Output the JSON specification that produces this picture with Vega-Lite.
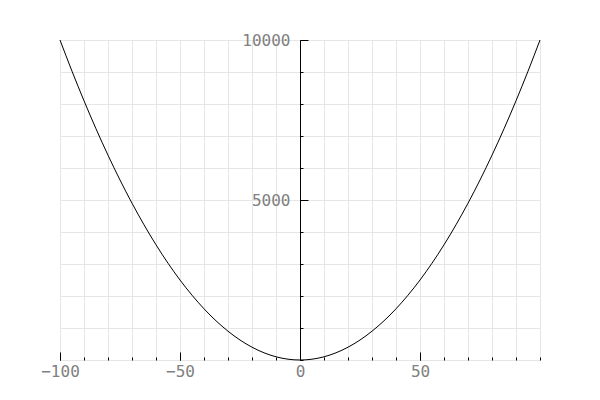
{
  "$schema": "https://vega.github.io/schema/vega-lite/v6.json",
  "width": 480,
  "height": 320,
  "autosize": {"type": "none"},
  "padding": {"left": 60, "top": 40, "right": 60, "bottom": 40},
  "background": "white",
  "config": {
    "view": {"stroke": null},
    "axis": {
      "labelFont": "DejaVu Sans Mono",
      "labelFontSize": 16,
      "labelColor": "#808080",
      "tickColor": "black",
      "domainColor": "black",
      "gridColor": "#e6e6e6",
      "gridWidth": 1,
      "title": null
    }
  },
  "data": {
    "values": [
      {"x": -100, "y": 10000}, {"x": -95, "y": 9025}, {"x": -90, "y": 8100}, {"x": -85, "y": 7225},
      {"x": -80, "y": 6400}, {"x": -75, "y": 5625}, {"x": -70, "y": 4900}, {"x": -65, "y": 4225},
      {"x": -60, "y": 3600}, {"x": -55, "y": 3025}, {"x": -50, "y": 2500}, {"x": -45, "y": 2025},
      {"x": -40, "y": 1600}, {"x": -35, "y": 1225}, {"x": -30, "y": 900}, {"x": -25, "y": 625},
      {"x": -20, "y": 400}, {"x": -15, "y": 225}, {"x": -10, "y": 100}, {"x": -5, "y": 25},
      {"x": 0, "y": 0},
      {"x": 5, "y": 25}, {"x": 10, "y": 100}, {"x": 15, "y": 225}, {"x": 20, "y": 400},
      {"x": 25, "y": 625}, {"x": 30, "y": 900}, {"x": 35, "y": 1225}, {"x": 40, "y": 1600},
      {"x": 45, "y": 2025}, {"x": 50, "y": 2500}, {"x": 55, "y": 3025}, {"x": 60, "y": 3600},
      {"x": 65, "y": 4225}, {"x": 70, "y": 4900}, {"x": 75, "y": 5625}, {"x": 80, "y": 6400},
      {"x": 85, "y": 7225}, {"x": 90, "y": 8100}, {"x": 95, "y": 9025}, {"x": 100, "y": 10000}
    ]
  },
  "resolve": {"axis": {"x": "independent", "y": "independent"}},
  "layer": [
    {
      "mark": {"type": "line", "strokeOpacity": 0},
      "encoding": {
        "x": {
          "field": "x", "type": "quantitative",
          "scale": {"domain": [-100, 100], "nice": false, "zero": false},
          "axis": {
            "orient": "bottom",
            "values": [-100, -90, -80, -70, -60, -50, -40, -30, -20, -10, 0, 10, 20, 30, 40, 50, 60, 70, 80, 90, 100],
            "labels": false, "domain": false, "grid": true,
            "tickSize": -3, "zindex": 0
          }
        },
        "y": {
          "field": "y", "type": "quantitative",
          "scale": {"domain": [0, 10000], "nice": false},
          "axis": {
            "orient": "left", "offset": -240,
            "values": [0, 1000, 2000, 3000, 4000, 5000, 6000, 7000, 8000, 9000, 10000],
            "labels": false, "domain": false, "grid": true,
            "tickSize": -3, "zindex": 0
          }
        }
      }
    },
    {
      "mark": {"type": "line", "color": "black", "strokeWidth": 1, "interpolate": "monotone"},
      "encoding": {
        "x": {
          "field": "x", "type": "quantitative",
          "axis": {
            "orient": "bottom",
            "values": [-100, -50, 0, 50],
            "format": "d",
            "labelFlush": false, "domain": false, "grid": false,
            "tickSize": -8, "labelPadding": 11, "zindex": 1
          }
        },
        "y": {
          "field": "y", "type": "quantitative",
          "axis": {
            "orient": "left", "offset": -240,
            "values": [5000, 10000],
            "format": "d",
            "domain": true, "grid": false,
            "tickSize": -8, "labelPadding": 18, "zindex": 1
          }
        }
      }
    }
  ]
}
